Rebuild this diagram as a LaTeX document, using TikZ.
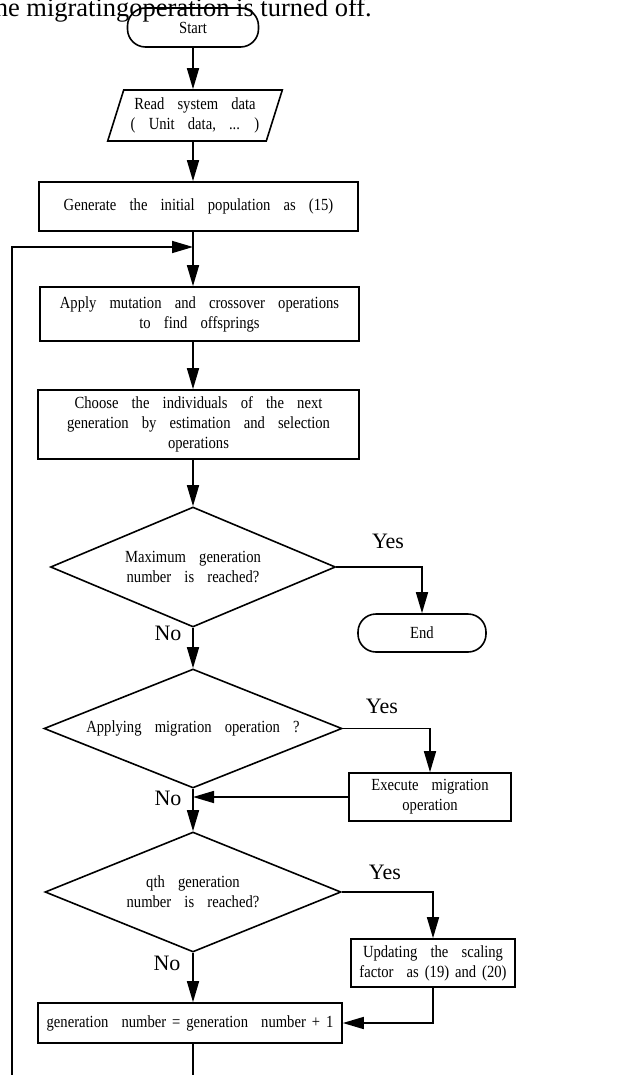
\documentclass[tikz,border=0pt]{standalone}
\usepackage{fontspec}
\setmainfont{Liberation Serif}[FakeStretch=0.86,WordSpace=3.6]
\newfontfamily\plainfont{Liberation Serif}
\usetikzlibrary{shapes.geometric,arrows.meta}
\newcommand{\boxfont}{\fontsize{17}{20}\selectfont}
\newcommand{\ynfont}{\plainfont\fontsize{22}{24}\selectfont}
\newcommand{\tsp}{\hspace{0.35em}}
\tikzset{
	box/.style={draw,rectangle,line width=1.6pt,align=center,font=\boxfont,inner sep=2pt},
	term/.style={box,rounded corners=18pt},
	io/.style={draw,trapezium,trapezium left angle=68.6,trapezium right angle=111.4,trapezium stretches=true,line width=1.6pt,align=center,font=\boxfont,inner sep=1pt},
	dec/.style={draw,diamond,aspect=2.4,inner sep=0pt,line width=1.6pt,align=center,font=\boxfont},
	yn/.style={font=\ynfont,inner sep=0pt},
	arr/.style={-{Triangle[length=21pt,width=12pt]},line width=1.6pt},
	ln/.style={line width=1.6pt}
}
\begin{document}
\begin{tikzpicture}[x=1pt,y=1pt]
	\clip (0,0) rectangle (640,-1075);
	\node[anchor=base east,font=\plainfont\fontsize{26.5}{30}\selectfont,inner sep=0pt] (note) at (372,-17) {he migratingoperation is turned off.};
	\node[term,minimum width=131,minimum height=39] (start) at (193,-27.5) {Start};
	\node[io,minimum width=175,minimum height=51] (read) at (195,-115.5) {Read system data\\( Unit data, ... )};
	\node[box,minimum width=319,minimum height=49] (init) at (198.5,-206.5) {Generate the initial population as (15)};
	\node[box,minimum width=319,minimum height=54] (apply) at (199.5,-314) {Apply mutation and crossover operations\\to find offsprings};
	\node[box,minimum width=321,minimum height=69] (choose) at (198.5,-424.5) {Choose the individuals of the next\\generation by estimation and selection\\operations};
	\node[dec,minimum width=285,minimum height=120] (maxgen) at (193,-567) {Maximum generation\\number is reached?};
	\node[term,minimum width=128,minimum height=38] (end) at (422,-633) {End};
	\node[dec,minimum width=298,minimum height=119] (migq) at (193,-728.5) {Applying migration operation ?};
	\node[box,minimum width=162,minimum height=48] (exec) at (430,-797) {Execute migration\\operation};
	\node[dec,minimum width=296,minimum height=120] (qth) at (193,-892) {qth generation\\number is reached?};
	\node[box,minimum width=164,minimum height=48] (upd) at (433,-963) {Updating the scaling\\factor as\tsp(19)\tsp and\tsp(20)};
	\node[box,minimum width=304,minimum height=40] (last) at (190,-1023) {generation number\tsp=\tsp generation number\tsp+\tsp1};
	\node[yn] (yes1) at (388,-541) {Yes};
	\node[yn] (no1) at (168,-633) {No};
	\node[yn] (yes2) at (382,-706) {Yes};
	\node[yn] (no2) at (168,-798) {No};
	\node[yn] (yes3) at (385,-872) {Yes};
	\node[yn] (no3) at (167,-963) {No};
	\coordinate (merge) at (193,-247);
	\coordinate (loopbot) at (12,-1075);
	\coordinate (outbot) at (193,-1075);
	\draw[arr] (start) -- (read.north -| start);
	\draw[arr] (read.south -| start) -- (init.north -| start);
	\draw[arr] (init.south -| start) -- (apply.north -| start);
	\draw[arr] (loopbot) |- (merge);
	\draw[arr] (apply.south -| start) -- (choose.north -| start);
	\draw[arr] (choose.south -| start) -- (maxgen.north);
	\draw[arr] (maxgen.east) -| (end.north);
	\draw[arr] (maxgen.south) -- (migq.north);
	\draw[arr] (migq.east) -| (exec.north);
	\draw[arr] (exec.west) -- (exec.west -| migq.south);
	\draw[arr] (migq.south) -- (qth.north);
	\draw[arr] (qth.east) -| (upd.north);
	\draw[arr] (upd.south) |- (last.east);
	\draw[arr] (qth.south) -- (last.north -| start);
	\draw[ln] (last.south -| start) -- (outbot);
\end{tikzpicture}
\end{document}
